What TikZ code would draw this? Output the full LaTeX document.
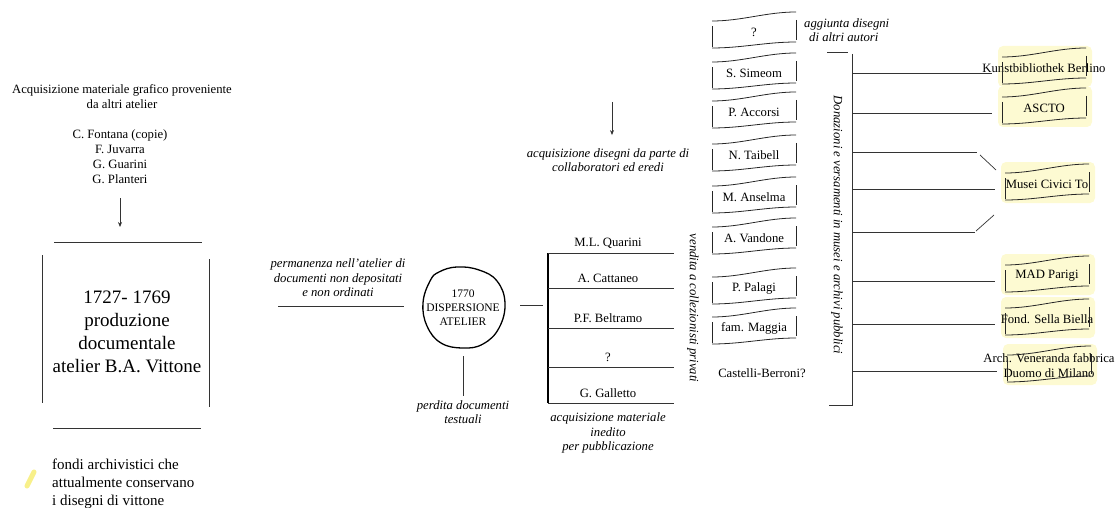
\documentclass[tikz,border=0pt]{standalone}
\usepackage{fontspec}
\setmainfont{Liberation Serif}
\usepackage{xcolor}
\usetikzlibrary{arrows.meta, positioning, calc, backgrounds}

\definecolor{hlyellow}{HTML}{FDFAD2}
\definecolor{markyellow}{HTML}{F8F08A}

% hand drawn box round a node
\newcommand{\sketchbox}[1]{%
  \draw[sk] ($(#1)+(-42,11)$) .. controls +(30,0) and +(-30,0) .. ($(#1)+(42,20)$);
  \draw[sk] ($(#1)+(-42,-16)$) .. controls +(30,0) and +(-30,0) .. ($(#1)+(42,-10)$);
  \draw[sk] ($(#1)+(-42,6)$) -- ($(#1)+(-42,-15)$);
  \draw[sk] ($(#1)+(42,12)$) -- ($(#1)+(42,-8)$);
}
\newcommand{\hlbox}[1]{%
  \begin{scope}[on background layer]
    \fill[hl] ($(#1)+(-46,-19)$) rectangle ($(#1)+(48,22)$);
  \end{scope}
  \sketchbox{#1}}

\begin{document}
\begin{tikzpicture}[x=1pt, y=1pt, >={Stealth[length=5pt,width=4pt]},
  font=\fontsize{12.7}{15}\selectfont,
  txt/.style={align=center, inner sep=1pt},
  note/.style={txt, font=\fontsize{12.7}{14.5}\selectfont\itshape},
  big/.style={txt, font=\fontsize{19}{23}\selectfont},
  ln/.style={black!80, line width=0.7pt},
  sk/.style={black!85, line width=0.8pt},
  hl/.style={fill=hlyellow, rounded corners=5pt}]
  \useasboundingbox (0,0) rectangle (1116,-508);

  % atelier production
  \node[txt] (src) at (122,-97) {Acquisizione materiale grafico proveniente\\da altri atelier};
  \node[txt] (names) at (120,-157) {C. Fontana (copie)\\F. Juvarra\\G. Guarini\\G. Planteri};
  \node[big] (prod) at (127,-332) {1727- 1769\\produzione\\documentale\\atelier B.A. Vittone};
  \coordinate (a1) at (120,-198);
  \coordinate (a2) at (120,-227);
  \draw[->, ln] (a1) -- (a2);
  \draw[ln] ($(prod)+(-73,90)$) -- ($(prod)+(75,90)$);
  \draw[ln] ($(prod)+(-74,-96)$) -- ($(prod)+(74,-96)$);
  \draw[ln] ($(prod)+(-85,77)$) -- ($(prod)+(-85,-71)$);
  \draw[ln] ($(prod)+(82,73)$) -- ($(prod)+(82,-75)$);

  % legend
  \draw[line width=5pt, line cap=round, markyellow] (27,-486) -- (34,-472);
  \node[txt, align=left, anchor=north west, font=\fontsize{15}{18}\selectfont] (legend) at (51,-458)
    {fondi archivistici che\\attualmente conservano\\i disegni di vittone};

  % dispersion
  \node[note] (perm) at (338,-278) {permanenza nell'atelier di\\documenti non depositati\\e non ordinati};
  \node[circle, minimum size=82, inner sep=0, align=center, font=\fontsize{11.5}{14}\selectfont] (disp) at (463,-308)
    {1770\\DISPERSIONE\\ATELIER};
  \draw[line width=1.3pt, shift={(disp.center)}] plot[smooth cycle, tension=0.7]
    coordinates {(-40,5) (-33,27) (-24,36) (-6,41) (16,38) (34,27) (42,5) (36,-20) (20,-36) (0,-40) (-22,-35) (-36,-18)};
  \coordinate (pstart) at (278,-306);
  \draw[ln] (pstart) -- ([xshift=-18pt,yshift=2pt]disp.west);
  \node[note] (perd) at (463,-412) {perdita documenti\\testuali};
  \draw[ln] ([yshift=-7pt]disp.south) -- ([yshift=3pt]perd.north);

  % private collectors
  \node[note] (collab) at (608,-160) {acquisizione disegni da parte di\\collaboratori ed eredi};
  \coordinate (c0) at (612,-102);
  \draw[->, ln] (c0) -- ([xshift=4pt,yshift=12pt]collab.north);
  \node[txt] (quarini) at (608,-243) {M.L. Quarini};
  \node[txt] (cattaneo) at (608,-278) {A. Cattaneo};
  \node[txt] (beltramo) at (608,-318) {P.F. Beltramo};
  \node[txt] (ignoto) at (608,-357) {?};
  \node[txt] (galletto) at (608,-393) {G. Galletto};
  \node[note] (inedito) at (608,-433) {acquisizione materiale\\inedito\\per pubblicazione};
  \coordinate (pT) at (548,-253);
  \coordinate (pB) at (548,-403);
  \draw[line width=1.6pt] (pT) -- (pB);
  \foreach \n in {quarini,cattaneo,beltramo,ignoto,galletto}{
    \path ($(\n)+(0,-10)$) coordinate (tmp);
    \draw[ln] (tmp -| pT) -- ($(tmp)+(66,0)$);
  }
  \coordinate (pc) at (543,-305);
  \draw[ln] ([xshift=16pt,yshift=3pt]disp.east) -- (pc);
  \node[note, rotate=-90] (vendita) at (693,-308) {vendita a collezionisti privati};

  % collaborators and heirs
  \foreach \n/\t/\y in {dq/?/32, simeom/S. Simeom/73, accorsi/P. Accorsi/112, taibell/N. Taibell/155,
      anselma/M. Anselma/197, vandone/A. Vandone/238, palagi/P. Palagi/288, maggia/fam. Maggia/328}{
    \node[txt] (\n) at (754,-\y) {\t};
    \sketchbox{\n}
  }
  \node[txt] (castelli) at (762,-373) {Castelli-Berroni?};
  \node[note, align=left, anchor=west] (aggiunta) at (803,-30) {aggiunta disegni\\\hspace*{5pt}di altri autori};

  % public collections
  \coordinate (uT) at (852,-52);
  \coordinate (uB) at (852,-405);
  \draw[ln] ([xshift=-25pt]uT) -- ([xshift=-4pt]uT);
  \draw[ln, line width=0.9pt] ([yshift=-2pt]uT) -- (uB) -- ([xshift=-23pt]uB);
  \node[note, rotate=-90] (donaz) at (837,-225) {Donazioni e versamenti in musei e archivi pubblici};
  \node[txt] (kunst) at (1044,-68) {Kunstbibliothek Berlino};
  \node[txt] (ascto) at (1044,-108) {ASCTO};
  \node[txt] (musei) at (1047,-184) {Musei Civici To};
  \node[txt] (mad) at (1047,-276) {MAD Parigi};
  \node[txt] (sella) at (1047,-319) {Fond. Sella Biella};
  \node[txt, font=\fontsize{12.7}{15}\selectfont] (arch) at (1049,-366) {Arch. Veneranda fabbrica\\Duomo di Milano};
  \foreach \n in {kunst,ascto,musei,mad,sella,arch}{
    \hlbox{\n}
    \path ($(\n)+(0,-5)$) coordinate (tmp);
    \draw[ln] (tmp -| uT) -- ($(tmp)+(-52,0)$);
  }
  \coordinate (m1) at (977,-152);
  \coordinate (m2) at (975,-232);
  \draw[ln] (m1 -| uT) -- (m1);
  \draw[ln] (m2 -| uT) -- (m2);
  \draw[ln] ([xshift=3pt,yshift=-3pt]m1) -- ([xshift=-51pt,yshift=14pt]musei.center);
  \draw[ln] ([xshift=1pt,yshift=1pt]m2) -- ([xshift=-53pt,yshift=-31pt]musei.center);
\end{tikzpicture}
\end{document}
